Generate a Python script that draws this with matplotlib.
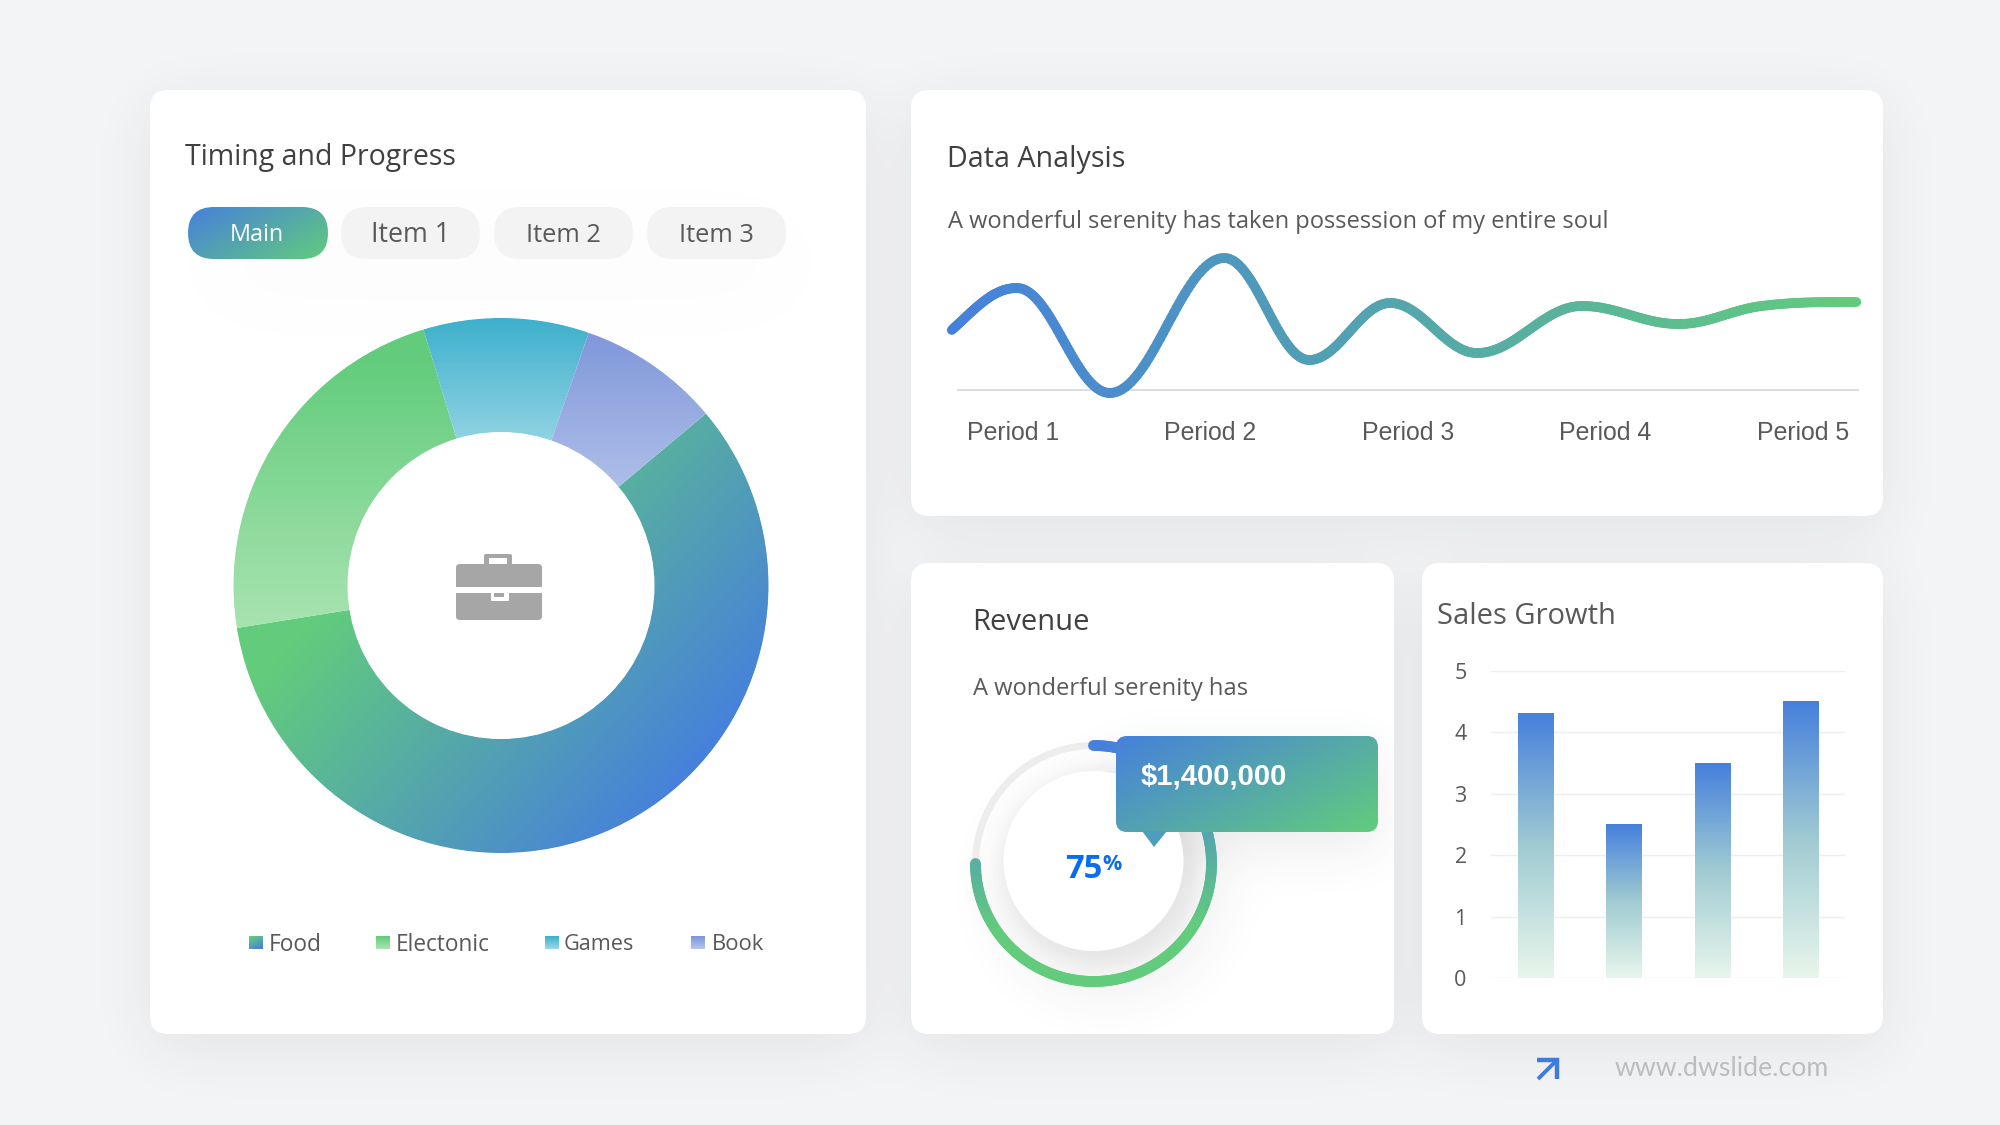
import numpy as np
import matplotlib
matplotlib.use("Agg")
import matplotlib.pyplot as plt
from matplotlib.collections import LineCollection
from matplotlib.colors import to_rgb
from matplotlib.font_manager import FontProperties
from matplotlib.patches import Circle, FancyBboxPatch, Polygon, Rectangle
from matplotlib.textpath import TextPath

# ---------- data ----------
pie_labels = ["Food", "Electonic", "Games", "Book"]
pie_values = [8.2, 3.2, 1.4, 1.2]

periods = ["Period 1", "Period 2", "Period 3", "Period 4", "Period 5"]
wave_x = [-0.31, 0.02, 0.49, 1.07, 1.50, 1.91, 2.35, 2.88, 3.37, 3.79, 4.27]
wave_y = [0.60, 1.02, -0.03, 1.32, 0.30, 0.87, 0.37, 0.84, 0.66, 0.84, 0.88]

sales_categories = ["A", "B", "C", "D"]
sales_values = [4.3, 2.5, 3.5, 4.5]
sales_ticks = [0, 1, 2, 3, 4, 5]

revenue_percent = 75
revenue_label = "$1,400,000"

# ---------- helpers ----------
W, H = 2000, 1125
BLUE, GREEN = "#4680DC", "#62CC7C"
TITLE, BODY = "#404040", "#595959"
UI = "Open Sans"
fig = plt.figure(figsize=(W / 100, H / 100), dpi=100, facecolor="#F3F4F6")


def box(x0, y0, x1, y1, **kw):
    return fig.add_axes([x0 / W, 1 - y1 / H, (x1 - x0) / W, (y1 - y0) / H], **kw)


def fit(text, width, family, weight="normal"):
    fp = FontProperties(family=family, weight=weight)
    return width * 72 / TextPath((0, 0), text, size=100, prop=fp).get_extents().width


yy, xx = np.mgrid[0:H, 0:W] + 0.5


def rr_mask(x0, y0, x1, y1, r):
    cx, cy = (x0 + x1) / 2, (y0 + y1) / 2
    qx = np.abs(xx - cx) - (x1 - x0) / 2 + r
    qy = np.abs(yy - cy) - (y1 - y0) / 2 + r
    d = np.hypot(np.maximum(qx, 0), np.maximum(qy, 0)) + np.minimum(np.maximum(qx, qy), 0) - r
    return np.clip(0.5 - d, 0, 1)


def disc_mask(cx, cy, r):
    return np.clip(0.5 - (np.hypot(xx - cx, yy - cy) - r), 0, 1)


def blur(m, s):
    fy = np.fft.fftfreq(H)[:, None]
    fx = np.fft.rfftfreq(W)[None, :]
    g = np.exp(-2 * (np.pi * s) ** 2 * (fx ** 2 + fy ** 2))
    return np.fft.irfft2(np.fft.rfft2(m) * g, s=m.shape)


def grad(n, m, c0, c1, ax_x=0.0, ax_y=1.0, mid=None):
    """n rows, m cols; colour from c0 to c1 along direction (ax_x, ax_y)."""
    v, u = np.mgrid[0:1:n * 1j, 0:1:m * 1j]
    t = u * ax_x + v * ax_y
    t = (t - t.min()) / (t.max() - t.min())
    a, b = np.array(to_rgb(c0)), np.array(to_rgb(c1))
    if mid is None:
        return a + (b - a) * t[..., None]
    c = np.array(to_rgb(mid))
    tt = t[..., None]
    return np.where(tt < 0.5, a + (c - a) * tt * 2, c + (b - c) * (tt - 0.5) * 2)


cards = [(150, 90, 866, 1034), (911, 90, 1883, 516), (911, 563, 1394, 1034), (1422, 563, 1883, 1034)]

# ---------- background & shadows ----------
ax_bg = box(0, 0, W, H, zorder=0)
ax_bg.set_axis_off()
ax_bg.set_xlim(0, W)
ax_bg.set_ylim(H, 0)
ax_bg.set_autoscale_on(False)

shade = np.zeros((H, W))
for c in cards:
    shade = 1 - (1 - shade) * (1 - 0.08 * blur(rr_mask(c[0], c[1] + 14, c[2], c[3] + 14, 18), 30))
rgba = np.zeros((H, W, 4))
rgba[..., :3] = 0.18
rgba[..., 3] = shade
ax_bg.imshow(rgba, extent=(0, W, H, 0), aspect="auto", zorder=0)
for c in cards:
    ax_bg.add_patch(FancyBboxPatch((c[0] + 18, c[1] + 18), c[2] - c[0] - 36, c[3] - c[1] - 36,
                                   boxstyle="round,pad=18,rounding_size=18", fc="white", ec="none", zorder=1))

inner = np.zeros((H, W))
inner = 1 - (1 - inner) * (1 - 0.06 * blur(disc_mask(1108, 885, 118), 24))
inner = 1 - (1 - inner) * (1 - 0.09 * blur(rr_mask(1125, 752, 1378, 850, 12), 26))
inner = 1 - (1 - inner) * (1 - 0.018 * blur(rr_mask(200, 225, 800, 300, 20), 50))
inner *= rr_mask(*cards[2], 18) + rr_mask(*cards[0], 18)
layer = np.zeros((H, W, 4))
layer[..., :3] = 0.2
layer[..., 3] = inner
ax_bg.imshow(layer, extent=(0, W, H, 0), aspect="auto", zorder=2)
# soft shaded disc under the white centre of the gauge
disc_sh = np.zeros((H, W, 4))
disc_sh[..., :3] = 0.3
disc_sh[..., 3] = 0.075 * blur(disc_mask(1099, 868, 97), 8) * disc_mask(1093.5, 863.5, 114)
ax_bg.imshow(disc_sh, extent=(0, W, H, 0), aspect="auto", zorder=3)
ax_bg.add_patch(Circle((1093.5, 861), 90, fc="white", ec="none", zorder=4))

# ---------- donut ----------
R, Rin = 268, 153
cx, cy = 501, 585.5
ax_pie = box(cx - R, cy - R, cx + R, cy + R, zorder=2)
wedges, _ = ax_pie.pie(pie_values, startangle=40, counterclock=False, radius=1,
                       wedgeprops=dict(width=1 - Rin / R, fc="none", ec="none"))
ax_pie.set_xlim(-1, 1)
ax_pie.set_ylim(-1, 1)
ax_pie.set_autoscale_on(False)
v, u = np.mgrid[1:-1:600j, -1:1:600j]
tf = np.clip(0.04 - 0.52 * (u - 0.8) + 0.45 * (v + 0.53), 0, 1)[..., None]
food = np.array(to_rgb(BLUE)) + (np.array(to_rgb(GREEN)) - np.array(to_rgb(BLUE))) * tf


def band(c0, c1, y0, y1):
    t = np.clip((v - y0) / (y1 - y0), 0, 1)[..., None]
    return np.array(to_rgb(c0)) + (np.array(to_rgb(c1)) - np.array(to_rgb(c0))) * t


fills = [food,
         band("#62CC7C", "#A8E3B0", 0.85, -0.15),
         band("#40B1CC", "#98D6E6", 0.98, 0.5),
         band("#7F97DA", "#B4C3EB", 0.95, 0.3)]
for wedge, fill in zip(wedges, fills):
    im = ax_pie.imshow(fill, extent=(-1, 1, -1, 1), origin="upper", aspect="auto", zorder=1)
    im.set_clip_path(wedge)
for rad, lw in ((1.0 + 0.9 / R, 2.0), (Rin / R - 0.9 / R, 2.0)):
    ax_pie.add_patch(Circle((0, 0), rad, fc="none", ec="white", lw=lw, zorder=3, clip_on=False))
ax_pie.set_axis_off()

# ---------- wave line ----------
ax_line = box(930, 240, 1880, 420, zorder=2)
ax_line.patch.set_alpha(0)
ax_line.set_xlim((930 - 1013) / 197.5, (1880 - 1013) / 197.5)
ax_line.set_ylim(-0.3, 1.5)
for s in ax_line.spines.values():
    s.set_visible(False)
ax_line.hlines(0, -0.285, 4.285, color="#D3D3D3", lw=1.1, zorder=1)


def tangent(i):
    if i == 0 or i == len(wave_x) - 1:
        return None
    a, b = wave_y[i] - wave_y[i - 1], wave_y[i + 1] - wave_y[i]
    if a * b <= 0:
        return 0.0
    return (wave_y[i + 1] - wave_y[i - 1]) / (wave_x[i + 1] - wave_x[i - 1])


px, py = [], []
K = 0.37
for i in range(len(wave_x) - 1):
    x0, x1, y0, y1 = wave_x[i], wave_x[i + 1], wave_y[i], wave_y[i + 1]
    dx = x1 - x0
    m0, m1 = tangent(i), tangent(i + 1)
    slope = (y1 - y0) / dx
    m0 = 1.4 * slope if m0 is None else m0
    m1 = 0.1 * slope if m1 is None else m1
    c0 = (x0 + K * dx, y0 + m0 * K * dx)
    c1 = (x1 - K * dx, y1 - m1 * K * dx)
    t = np.linspace(0, 1, 40)[:, None]
    pts = ((1 - t) ** 3 * np.array([x0, y0]) + 3 * (1 - t) ** 2 * t * np.array(c0)
           + 3 * (1 - t) * t ** 2 * np.array(c1) + t ** 3 * np.array([x1, y1]))
    px.extend(pts[:, 0])
    py.extend(pts[:, 1])
px, py = np.array(px), np.array(py)
segs = np.stack([np.c_[px[:-1], py[:-1]], np.c_[px[1:], py[1:]]], axis=1)
tx = ((px[:-1] - px.min()) / (px.max() - px.min()))[:, None]
cols = np.array(to_rgb(BLUE)) + (np.array(to_rgb(GREEN)) - np.array(to_rgb(BLUE))) * tx
ax_line.add_collection(LineCollection(segs, colors=cols, linewidths=7.0, capstyle="round", zorder=2))
ax_line.set_yticks([])
ax_line.set_xticks(range(5), periods, fontfamily="Liberation Sans", fontsize=17.9, color=BODY)
ax_line.tick_params(axis="x", length=0, pad=1)

# ---------- bars ----------
ax_bar = box(1491, 671, 1845, 978, zorder=2)
ax_bar.patch.set_alpha(0)
ax_bar.set_xlim(-0.5, 3.5)
ax_bar.set_ylim(0, 5)
ax_bar.set_autoscale_on(False)
for s in ax_bar.spines.values():
    s.set_visible(False)
ax_bar.set_axisbelow(True)
ax_bar.grid(axis="y", color="#EEEEEE", lw=1)
ax_bar.set_yticks(sales_ticks, [str(t) for t in sales_ticks], fontfamily=UI, fontsize=15.5, color=BODY)
ax_bar.tick_params(axis="y", length=0, pad=17.5)
ax_bar.set_xticks([])
bars = ax_bar.bar(range(len(sales_values)), sales_values, width=0.4, color="none", zorder=2)
for b, val in zip(bars, sales_values):
    img = grad(200, 2, BLUE, "#E8F6EC", mid="#A0CBD2")
    ax_bar.imshow(img, extent=(b.get_x(), b.get_x() + b.get_width(), 0, val),
                  origin="upper", aspect="auto", zorder=2)

# ---------- gauge ----------
ax_g = box(1093.5 - 135, 863.5 - 135, 1093.5 + 135, 863.5 + 135, projection="polar", zorder=2)
ax_g.set_theta_zero_location("N")
ax_g.set_theta_direction(-1)
ax_g.set_rlim(0, 135)
ax_g.set_axis_off()
ax_g.patch.set_alpha(0)
th = np.linspace(0, 2 * np.pi, 300)
ax_g.plot(th, np.full_like(th, 118), color="#EDEDED", lw=5)
th = np.linspace(0, 2 * np.pi * revenue_percent / 100, 200)
rr = np.full_like(th, 118.0)
seg = np.stack([np.c_[th[:-1], rr[:-1]], np.c_[th[1:], rr[1:]]], axis=1)
tv = np.clip((1 - np.cos(th[:-1])) / 2 / 0.78, 0, 1)[:, None]
gc = np.array(to_rgb(BLUE)) + (np.array(to_rgb(GREEN)) - np.array(to_rgb(BLUE))) * tv
ax_g.add_collection(LineCollection(seg, colors=gc, linewidths=7.8, capstyle="round"))

# ---------- overlay: pills, tooltip, text, icons ----------
ax = box(0, 0, W, H, zorder=5)
ax.set_axis_off()
ax.patch.set_alpha(0)
ax.set_xlim(0, W)
ax.set_ylim(H, 0)
ax.set_autoscale_on(False)


def text(s, x, y, width, family=UI, color=BODY, weight="normal", ha="left", **kw):
    ax.text(x, y + 3, s, family=family, color=color, weight=weight, ha=ha, va="center",
            fontsize=fit(s, width, family, weight), **kw)


def round_box(x0, y0, x1, y1, r, **kw):
    p = FancyBboxPatch((x0 + r, y0 + r), x1 - x0 - 2 * r, y1 - y0 - 2 * r,
                       boxstyle=f"round,pad={r},rounding_size={r}", **kw)
    ax.add_patch(p)
    return p


text("Timing and Progress", 185, 155, 270, color=TITLE)
text("Data Analysis", 947, 157, 174, color=TITLE)
text("A wonderful serenity has taken possession of my entire soul", 948, 219, 660)
text("Revenue", 972, 619, 113, color=TITLE)
text("A wonderful serenity has", 973, 686, 273)
text("Sales Growth", 1437, 613, 175, color=BODY)

p = round_box(188, 207, 328, 259, 26, fc="none", ec="none")
im = ax.imshow(grad(60, 160, BLUE, GREEN, 0.7, 0.45), extent=(188, 328, 259, 207), aspect="auto", zorder=1)
im.set_clip_path(p)
text("Main", 257, 232, 50, color="white", ha="center", zorder=3)
for label, x0, x1 in (("Item 1", 341, 480), ("Item 2", 494, 633), ("Item 3", 647, 786)):
    round_box(x0, 207, x1, 259, 26, fc="#F3F3F3", ec="none")
    text(label, (x0 + x1) / 2, 232, 71, ha="center")

legend_pos = [(249, 269, 49), (376, 396, 91), (545, 564, 68), (691, 712, 50)]
legend_fill = [grad(10, 10, GREEN, BLUE, 0.5, 1.0), grad(10, 2, "#62CC7C", "#A8E3B0"),
               grad(10, 2, "#40B1CC", "#98D6E6"), grad(10, 2, "#7F97DA", "#B4C3EB")]
for label, (sx, tx_, tw), fill in zip(pie_labels, legend_pos, legend_fill):
    ax.imshow(fill, extent=(sx, sx + 13.5, 949, 936), aspect="auto", zorder=2)
    text(label, tx_, 942, tw)

# briefcase icon
GREY = "#A6A6A6"
round_box(484, 554, 512, 572, 2, fc=GREY, ec="none", zorder=2)
ax.add_patch(Rectangle((489, 558), 18, 8, fc="white", ec="none", zorder=3))
round_box(456, 564, 542, 620, 4, fc=GREY, ec="none", zorder=3)
ax.add_patch(Rectangle((456, 587), 86, 6, fc="white", ec="none", zorder=4))
ax.add_patch(Rectangle((491, 593), 18, 8, fc="white", ec="none", zorder=4))
ax.add_patch(Rectangle((494, 593), 10, 4, fc=GREY, ec="none", zorder=5))

# tooltip
tip = round_box(1116, 736, 1378, 832, 11, fc="none", ec="none")
tip_img = grad(96, 262, BLUE, GREEN, 0.6, 0.42)
im = ax.imshow(tip_img, extent=(1116, 1378, 832, 736), aspect="auto", zorder=6)
im.set_clip_path(tip)
ax.add_patch(Polygon([(1142, 831), (1167, 831), (1154, 847)], fc="#4F9DBE", ec="none", zorder=6))
text(revenue_label, 1141, 773.5, 145, family="Liberation Sans", color="white", weight="bold", zorder=7)
text(f"{revenue_percent}", 1065, 867, 35, color="#0A6CF0", weight="bold", zorder=7)
text("%", 1102, 861, 18, color="#0A6CF0", weight="bold", zorder=7)

# footer
ax.plot([1537, 1557, 1557], [1060, 1060, 1079], color="#3F7BDC", lw=3.2, solid_joinstyle="miter", solid_capstyle="butt")
ax.plot([1538, 1556], [1079, 1061], color="#3F7BDC", lw=2.8, solid_capstyle="butt")
text("www.dwslide.com", 1615, 1065, 212, family="Lato", color="#BDBDBD")

fig.savefig("out.png", dpi=100, facecolor=fig.get_facecolor())
